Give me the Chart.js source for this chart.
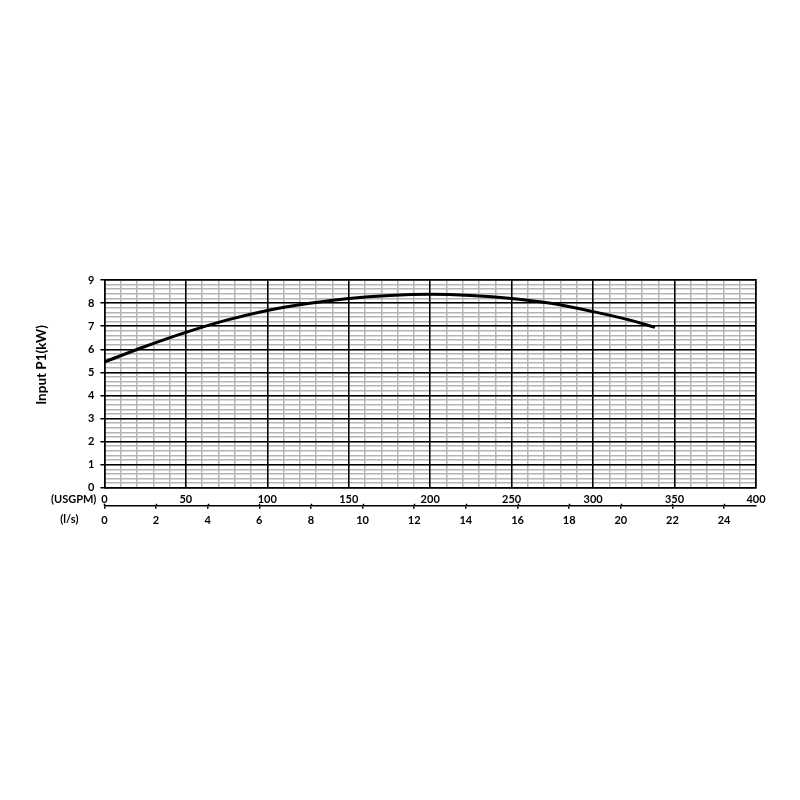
<!DOCTYPE html>
<html>
<head>
<meta charset="utf-8">
<script src="https://cdn.jsdelivr.net/npm/chart.js@4.4.0/dist/chart.umd.min.js"></script>
<style>
  html, body { margin: 0; padding: 0; background: #fff; }
  #wrap { width: 800px; height: 800px; }
</style>
</head>
<body>
<div id="wrap"><canvas id="chart" width="800" height="800"></canvas></div>
<script>
// flow in USGPM, power in kW
let flowUSGPM = [0, 25, 50, 75, 100, 125, 150, 175, 200, 225, 250, 275, 300, 325, 338];
let powerKW = [5.45, 6.12, 6.73, 7.26, 7.68, 7.98, 8.2, 8.33, 8.38, 8.33, 8.2, 7.98, 7.63, 7.22, 6.95];

// secondary flow axis labels (l/s)
let lsTicks = [0, 2, 4, 6, 8, 10, 12, 14, 16, 18, 20, 22, 24];

let usgpmMax = 400;
let lsPerUsgpm = 0.0630902;
let yMax = 9;
let yTitle = "Input P1(kW)";

let points = [];
for(let i = 0; i < flowUSGPM.length; i++){
	points.push({x: flowUSGPM[i], y: powerKW[i]});
}

function isMult(v, step){
	let r = v / step;
	return Math.abs(r - Math.round(r)) < 1e-6;
}

const FONT = "Lato, 'Open Sans', sans-serif";
const MINOR = "#b4b4b4";

// y title (sits a bit above centre in the original), "(USGPM)" and "(l/s)"
// next to the two bottom axes, plus the short marks crossing the l/s line
let unitLabels = {
	id: "unitLabels",
	afterDraw(chart){
		let ctx = chart.ctx;
		let area = chart.chartArea;
		let sx = chart.scales.x;
		let sx2 = chart.scales.x2;
		ctx.save();
		ctx.fillStyle = "#000";
		ctx.font = "bold 11px " + FONT;
		ctx.textAlign = "right";
		ctx.textBaseline = "middle";
		ctx.fillText("(USGPM)", area.left - 8, sx.top + 12);
		ctx.textAlign = "center";
		ctx.fillText("(l/s)", area.left - 35, sx2.top + 14);
		ctx.strokeStyle = "#000";
		ctx.lineWidth = 1.5;
		ctx.beginPath();
		for(let v of lsTicks){
			let px = Math.round(sx2.getPixelForValue(v)) + 0.5;
			ctx.moveTo(px, sx2.top - 2);
			ctx.lineTo(px, sx2.top);
		}
		ctx.stroke();

		ctx.translate(42, (area.top + area.bottom) / 2 - 19);
		ctx.rotate(-Math.PI / 2);
		ctx.font = "bold 13.5px " + FONT;
		ctx.fillText(yTitle, 0, 0);
		ctx.restore();
	}
};

let ctx = document.getElementById("chart").getContext("2d");
let chart = new Chart(ctx, {
	type: "line",
	data: {
		datasets: [{
			data: points,
			borderColor: "#000",
			borderWidth: 3,
			pointRadius: 0,
			tension: 0.4,
			cubicInterpolationMode: "monotone",
			fill: false
		}]
	},
	options: {
		responsive: false,
		animation: false,
		layout: { padding: { top: 280, right: 44, bottom: 268, left: 82 } },
		plugins: { legend: { display: false }, tooltip: { enabled: false } },
		scales: {
			// minor grid + USGPM labels
			x: {
				type: "linear",
				position: "bottom",
				min: 0,
				max: usgpmMax,
				afterFit: s => { s.height -= 5; },
				border: { display: true, color: "#000", width: 1.5 },
				grid: { drawTicks: false, color: MINOR, lineWidth: 1.5 },
				ticks: {
					stepSize: 10,
					autoSkip: false,
					maxRotation: 0,
					padding: 6,
					color: "#000",
					font: { family: FONT, weight: "bold", size: 11, lineHeight: 1 },
					callback: v => isMult(v, 50) ? String(v) : ""
				}
			},
			x2: {
				type: "linear",
				position: "bottom",
				min: 0,
				max: usgpmMax * lsPerUsgpm,
				afterBuildTicks: s => { s.ticks = lsTicks.map(v => ({value: v})); },
				border: { display: true, color: "#000", width: 1.5 },
				grid: {
					drawOnChartArea: false,
					drawTicks: true,
					tickLength: 3,
					color: "#000",
					lineWidth: 1.5
				},
				ticks: {
					autoSkip: false,
					maxRotation: 0,
					padding: 5,
					color: "#000",
					font: { family: FONT, weight: "bold", size: 11 }
				}
			},
			y: {
				min: 0,
				max: yMax,
				border: { display: true, color: "#000", width: 1.5 },
				grid: {
					drawTicks: true,
					tickLength: 4,
					color: MINOR,
					tickColor: c => isMult(c.tick.value, 1) ? "#000" : "rgba(0,0,0,0)",
					lineWidth: 1.5
				},
				ticks: {
					stepSize: 0.2,
					autoSkip: false,
					padding: 6,
					color: "#000",
					font: { family: FONT, weight: "bold", size: 11 },
					callback: v => isMult(v, 1) ? String(Math.round(v)) : ""
				}
			},
			// major grid, drawn after the minor one
			yRight: {
				position: "right",
				min: 0,
				max: yMax,
				border: { display: true, color: "#000", width: 1.5 },
				grid: { drawTicks: false, color: "#000", lineWidth: 1.5 },
				ticks: { display: false, stepSize: 1 }
			},
			xTop: {
				type: "linear",
				position: "top",
				min: 0,
				max: usgpmMax,
				border: { display: true, color: "#000", width: 1.5 },
				grid: { drawTicks: false, color: "#000", lineWidth: 1.5 },
				ticks: { display: false, stepSize: 50 }
			}
		}
	},
	plugins: [unitLabels]
});
</script>
</body>
</html>
